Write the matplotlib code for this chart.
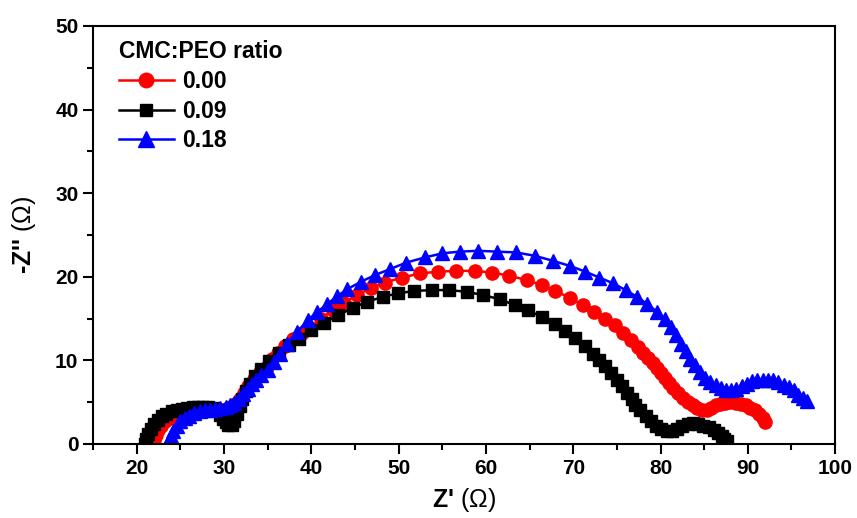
import matplotlib.pyplot as plt
from matplotlib.ticker import MultipleLocator

# Nyquist data (Z' in ohm, -Z'' in ohm)
x_000 = [21.9, 22.0, 22.2, 22.5, 22.8, 23.2, 23.7, 24.2, 24.8, 25.4, 26.0, 26.6,
         27.2, 27.8, 28.4, 29.0, 29.6, 30.2, 30.8, 31.3, 31.8, 32.3, 32.8, 33.4,
         34.1, 34.9, 35.5, 36.2, 37.0, 37.9, 38.9, 39.9, 41.1, 42.5, 43.8, 45.2,
         46.8, 48.4, 50.4, 52.5, 54.5, 56.6, 58.7, 60.7, 62.7, 64.7, 66.4, 67.9,
         69.6, 71.1, 72.4, 73.6, 74.8, 75.7, 76.6, 77.4, 78.0, 78.6, 79.1, 79.6,
         80.1, 80.5, 81.0, 81.4, 82.0, 82.6, 83.2, 83.7, 84.2, 84.8, 85.3, 85.8,
         86.3, 86.8, 87.4, 88.0, 88.6, 89.2, 89.8, 90.3, 90.8, 91.3, 91.7, 92.0]
y_000 = [0.0, 0.5, 1.1, 1.7, 2.2, 2.7, 3.1, 3.4, 3.7, 3.9, 4.0, 4.1,
         4.1, 4.1, 4.1, 4.1, 4.1, 4.2, 4.4, 4.8, 5.4, 6.1, 6.9, 7.8,
         8.6, 9.2, 10.1, 10.9, 11.7, 12.5, 13.3, 13.9, 15.0, 16.0, 16.9, 17.8,
         18.6, 19.3, 19.9, 20.4, 20.6, 20.7, 20.7, 20.5, 20.1, 19.6, 19.0, 18.3,
         17.5, 16.6, 15.8, 15.0, 14.2, 13.3, 12.4, 11.6, 10.9, 10.3, 9.7, 9.1,
         8.5, 7.9, 7.3, 6.7, 6.1, 5.5, 5.0, 4.6, 4.3, 4.1, 4.1, 4.3,
         4.6, 4.8, 4.9, 5.0, 4.9, 4.8, 4.6, 4.3, 4.0, 3.6, 3.1, 2.6]

x_009 = [21.0, 21.1, 21.3, 21.6, 22.0, 22.4, 22.9, 23.4, 24.0, 24.6, 25.2, 25.8,
         26.4, 27.0, 27.6, 28.2, 28.7, 29.2, 29.6, 29.9, 30.2, 30.5, 30.9, 31.2,
         31.5, 31.8, 32.1, 32.5, 33.0, 33.6, 34.3, 35.2, 36.3, 37.4, 38.6, 40.0,
         41.5, 43.1, 44.8, 46.4, 48.2, 49.9, 51.8, 53.8, 55.8, 57.8, 59.7, 61.6,
         63.3, 64.8, 66.4, 67.9, 69.1, 70.2, 71.3, 72.3, 73.0, 73.6, 74.3, 75.0,
         75.6, 76.2, 76.7, 77.1, 77.7, 78.3, 78.9, 79.5, 80.1, 80.7, 81.3, 81.9,
         82.5, 83.1, 83.7, 84.3, 84.9, 85.5, 86.1, 86.6, 87.0, 87.3, 87.6]
y_009 = [0.0, 0.6, 1.2, 1.8, 2.4, 2.9, 3.3, 3.6, 3.9, 4.1, 4.2, 4.3,
         4.4, 4.4, 4.4, 4.4, 4.3, 4.0, 3.5, 3.0, 2.6, 2.3, 2.3, 2.8,
         3.6, 4.5, 5.4, 6.3, 7.2, 8.1, 9.0, 9.9, 10.9, 11.8, 12.6, 13.6,
         14.5, 15.4, 16.3, 17.0, 17.6, 18.0, 18.3, 18.4, 18.4, 18.2, 17.8, 17.3,
         16.6, 16.0, 15.2, 14.4, 13.5, 12.7, 11.7, 10.8, 10.0, 9.3, 8.5, 7.7,
         6.9, 6.1, 5.4, 4.7, 4.0, 3.3, 2.7, 2.2, 1.8, 1.5, 1.5, 1.8,
         2.1, 2.4, 2.5, 2.4, 2.2, 2.0, 1.7, 1.3, 0.9, 0.6, 0.3]

x_018 = [23.6, 23.7, 23.9, 24.2, 24.6, 25.0, 25.5, 26.0, 26.6, 27.2, 27.8, 28.4,
         29.0, 29.6, 30.2, 30.7, 31.2, 31.7, 32.2, 32.7, 33.2, 33.7, 34.3, 35.0,
         35.7, 36.4, 37.2, 38.4, 39.6, 40.7, 41.8, 43.0, 44.1, 45.7, 47.3, 49.0,
         50.9, 53.0, 55.0, 57.0, 59.1, 61.3, 63.5, 65.6, 67.7, 69.6, 71.4, 73.0,
         74.6, 76.0, 77.3, 78.5, 79.6, 80.5, 81.2, 81.8, 82.4, 82.9, 83.4, 83.9,
         84.5, 85.1, 85.7, 86.3, 86.9, 87.5, 88.1, 88.7, 89.3, 89.9, 90.5, 91.1,
         91.7, 92.3, 92.9, 93.5, 94.1, 94.7, 95.3, 95.8, 96.3, 96.8]
y_018 = [0.0, 0.5, 1.0, 1.6, 2.2, 2.7, 3.1, 3.4, 3.7, 3.9, 4.0, 4.1,
         4.2, 4.3, 4.4, 4.6, 4.9, 5.4, 6.0, 6.6, 7.2, 7.7, 8.3, 8.9,
         9.8, 10.7, 12.0, 13.4, 14.8, 15.8, 16.7, 17.7, 18.5, 19.4, 20.2, 20.9,
         21.7, 22.3, 22.8, 23.0, 23.1, 23.0, 22.9, 22.5, 21.9, 21.3, 20.6, 19.9,
         19.2, 18.4, 17.6, 16.7, 15.8, 15.0, 14.0, 13.0, 12.0, 11.1, 10.2, 9.4,
         8.6, 7.9, 7.4, 7.0, 6.7, 6.5, 6.5, 6.6, 6.9, 7.2, 7.5, 7.7,
         7.7, 7.7, 7.6, 7.4, 7.1, 6.8, 6.4, 5.9, 5.5, 5.1]

labels = ['0.00', '0.09', '0.18']

plt.rcParams['font.family'] = ['Liberation Sans', 'DejaVu Sans']
plt.rcParams['mathtext.fontset'] = 'custom'
plt.rcParams['mathtext.rm'] = 'Liberation Sans'

fig = plt.figure(figsize=(8.57, 5.18), dpi=100)
ax = fig.add_axes([0.1085, 0.143, 0.866, 0.807])

ax.plot(x_000, y_000, color='#ff0000', marker='o', markersize=9.5, lw=1.8, label=labels[0])
ax.plot(x_009, y_009, color='black', marker='s', markersize=8, lw=1.8, label=labels[1])
ax.plot(x_018, y_018, color='#0000ff', marker='^', markersize=10.5, lw=1.8, label=labels[2])

ax.set_xlim(15, 100)
ax.set_ylim(0, 50)
ax.xaxis.set_major_locator(MultipleLocator(10))
ax.xaxis.set_minor_locator(MultipleLocator(5))
ax.yaxis.set_major_locator(MultipleLocator(10))
ax.yaxis.set_minor_locator(MultipleLocator(5))
ax.set_xticks([20, 30, 40, 50, 60, 70, 80, 90, 100])
ax.tick_params(which='major', direction='out', length=7, width=1.5)
ax.tick_params(which='minor', direction='out', length=4, width=1.5)
for lab in ax.get_xticklabels() + ax.get_yticklabels():
    lab.set_fontweight('bold')
    lab.set_fontsize(15)
for s in ax.spines.values():
    s.set_linewidth(1.5)

ax.set_xlabel("Z' $\\mathrm{(\\Omega)}$", fontsize=18, fontweight='bold', labelpad=6)
ax.set_ylabel("-Z'' $\\mathrm{(\\Omega)}$", fontsize=18, fontweight='bold', labelpad=12)

leg = ax.legend(title='CMC:PEO ratio', loc='upper left', bbox_to_anchor=(0.007, 1.016),
                frameon=False, handlelength=2.4, handletextpad=0.35,
                labelspacing=0.3, alignment='left', markerscale=1.1,
                prop={'weight': 'bold', 'size': 16.5},
                title_fontproperties={'weight': 'bold', 'size': 16.5})

fig.savefig('out.png', dpi=100)
